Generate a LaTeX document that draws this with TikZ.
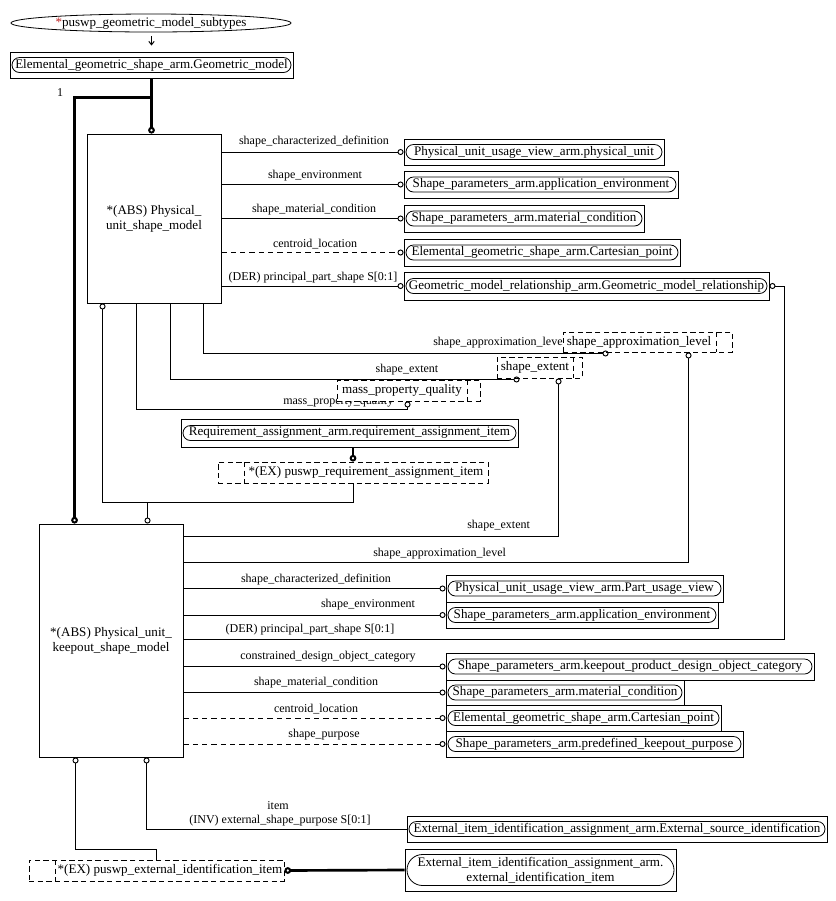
\documentclass[tikz,border=0pt]{standalone}
\usepackage{fontspec}
\setmainfont{Liberation Serif}
\usetikzlibrary{shapes.geometric,shapes.misc,arrows.meta,calc}
\definecolor{astred}{RGB}{190,30,30}
\newcommand\myent[6]{%
  \node[entbox, minimum width={(#4-#2)*0.75pt}, minimum height={(#5-#3)*0.75pt}] (#1) at ({(#2+#4)/2},{(#3+#5)/2}) {};
  \node[stad, minimum width={(#4-#2-4)*0.75pt}] (#1-t) at (#1.center) {#6};
}
\newcommand\mysel[8]{%
  \node[selbox, minimum width={(#4-#2)*0.75pt}, minimum height={(#5-#3)*0.75pt}] (#1) at ({(#2+#4)/2},{(#3+#5)/2}) {};
  \draw[seldash] (#6,#3) -- (#6,#5);
  \node[lbl, boxfont] (#1-t) at (#7,{(#3+#5)/2}) {#8};
}
\begin{document}
\begin{tikzpicture}[x=0.75pt,y=-0.75pt,
  every node/.style={font=\fontsize{9}{10.5}\selectfont, text=black},
  boxfont/.style={font=\fontsize{9.8}{11.4}\selectfont},
  entbox/.style={draw, rectangle, inner sep=0pt, line width=0.7pt, fill=white},
  stad/.style={draw, rounded rectangle, inner sep=0pt, minimum height=11.25pt, line width=0.6pt, boxfont},
  seldash/.style={line width=0.7pt, dash pattern=on 4pt off 2.5pt},
  selbox/.style={draw, rectangle, seldash, inner sep=0pt, fill=white},
  bigbox/.style={draw, rectangle, inner sep=0pt, line width=0.7pt, align=center, boxfont},
  rel/.style={line width=0.75pt},
  der/.style={line width=0.75pt, dash pattern=on 4pt off 3pt},
  circ/.style={-{Circle[open,length=4.5pt,width=4.5pt,line width=0.7pt]}},
  suprel/.style={line width=2pt, -{Circle[open,length=5pt,width=5pt,line width=1.5pt]}},
  lbl/.style={inner sep=0pt}
]
\useasboundingbox (0,0) rectangle (836,901);

% labels (drawn first so boxes can cover them)
\node[lbl] (l1) at (314,142) {shape\_characterized\_definition};
\node[lbl] (l2) at (315,176) {shape\_environment};
\node[lbl] (l3) at (314,210) {shape\_material\_condition};
\node[lbl] (l4) at (315,244) {centroid\_location};
\node[lbl] (l5) at (313,278) {(DER) principal\_part\_shape S[0:1]};
\node[lbl, anchor=west] (l6) at (433,343) {shape\_approximation\_level};
\node[lbl] (l7) at (407,370) {shape\_extent};
\node[lbl, anchor=west] (l8) at (283,402) {mass\_property\_quality};

\node[lbl, anchor=west] (m1) at (467,526) {shape\_extent};
\node[lbl, anchor=west] (m2) at (373,554) {shape\_approximation\_level};
\node[lbl] (m3) at (316,580) {shape\_characterized\_definition};
\node[lbl] (m4) at (368,605) {shape\_environment};
\node[lbl] (m5) at (310,630) {(DER) principal\_part\_shape S[0:1]};
\node[lbl] (m6) at (328,657) {constrained\_design\_object\_category};
\node[lbl] (m7) at (316,683) {shape\_material\_condition};
\node[lbl] (m8) at (316,709) {centroid\_location};
\node[lbl] (m9) at (324,735) {shape\_purpose};
\node[lbl] (m10) at (278,806) {item};
\node[lbl] (m11) at (280,821) {(INV) external\_shape\_purpose S[0:1]};
\node[lbl] (one) at (60,93) {1};

% top
\node[draw, ellipse, inner sep=0pt, minimum width=280*0.75pt, minimum height=18*0.75pt, line width=0.6pt, boxfont] (ell) at (151,23) {\textcolor{astred}{*}puswp\_geometric\_model\_subtypes};
\myent{geo}{10}{52}{293}{78}{Elemental\_geometric\_shape\_arm.Geometric\_model}

% big entity boxes
\node[bigbox, minimum width=134*0.75pt, minimum height=169*0.75pt] (pusm) at (154,218.5) {*(ABS) Physical\_\\unit\_shape\_model};
\node[bigbox, minimum width=144*0.75pt, minimum height=233*0.75pt] (kso) at (111,640.5) {*(ABS) Physical\_unit\_\\keepout\_shape\_model};

% upper targets
\myent{pu}{404}{139}{664}{165}{Physical\_unit\_usage\_view\_arm.physical\_unit}
\myent{ae1}{404}{171}{678}{198}{Shape\_parameters\_arm.application\_environment}
\myent{mc1}{404}{205}{644}{232}{Shape\_parameters\_arm.material\_condition}
\myent{cp1}{404}{239}{680}{266}{Elemental\_geometric\_shape\_arm.Cartesian\_point}
\myent{grel}{404}{272}{769}{300}{Geometric\_model\_relationship\_arm.Geometric\_model\_relationship}

% select / type boxes
\mysel{sal}{563}{332}{732}{352}{716}{639}{shape\_approximation\_level}
\mysel{sext}{497}{357}{582}{378}{573}{535}{shape\_extent}
\mysel{mpq}{337}{380}{480}{401}{467}{402}{mass\_property\_quality}
\myent{req}{181}{419}{518}{447}{Requirement\_assignment\_arm.requirement\_assignment\_item}
\mysel{reqsel}{218}{462}{488}{483}{244}{366}{*(EX) puswp\_requirement\_assignment\_item}

% lower targets
\myent{puv}{446}{575}{723}{602}{Physical\_unit\_usage\_view\_arm.Part\_usage\_view}
\myent{ae2}{446}{602}{718}{628}{Shape\_parameters\_arm.application\_environment}
\myent{kpd}{446}{653}{814}{680}{Shape\_parameters\_arm.keepout\_product\_design\_object\_category}
\myent{mc2}{446}{680}{684}{705}{Shape\_parameters\_arm.material\_condition}
\myent{cp2}{446}{705}{721}{731}{Elemental\_geometric\_shape\_arm.Cartesian\_point}
\myent{pkp}{446}{731}{743}{757}{Shape\_parameters\_arm.predefined\_keepout\_purpose}
\myent{esi}{407}{816}{827}{842}{External\_item\_identification\_assignment\_arm.External\_source\_identification}
\node[entbox, minimum width=271*0.75pt, minimum height=42*0.75pt] (eii) at (540.5,870) {};
\node[stad, minimum width=267*0.75pt, minimum height=31*0.75pt, align=center] (eii-t) at (eii.center) {External\_item\_identification\_assignment\_arm.\\external\_identification\_item};
\mysel{extsel}{29}{860}{284}{881}{55}{170}{*(EX) puswp\_external\_identification\_item}

% connectors: supertype
\draw[rel, shorten <=3pt, shorten >=4.5pt, -{Straight Barb[length=2.5pt,width=4pt]}] (ell.south -| geo.north) -- (geo.north);
\draw[suprel] (geo.south) -- (geo.south |- pusm.north);
\draw[suprel] (geo.south) -- ++(0,19) -| ($(kso.north west)+(36,0)$);
\draw[suprel] (req.south -| reqsel.north) -- (reqsel.north);
\draw[suprel] (eii.west) -- (extsel.east);

% upper attributes
\draw[rel,circ] (pusm.east |- pu.west) -- (pu.west);
\draw[rel,circ] (pusm.east |- ae1.west) -- (ae1.west);
\draw[rel,circ] (pusm.east |- mc1.west) -- (mc1.west);
\draw[der,circ] (pusm.east |- cp1.west) -- (cp1.west);
\draw[rel,circ] (pusm.east |- grel.west) -- (grel.west);
\draw[rel,circ] ($(pusm.south west)+(117,0)$) |- ($(sal.south west)+(46,1)$);
\draw[rel,circ] ($(pusm.south west)+(84,0)$) |- ($(sext.south west)+(23,1)$);
\draw[rel,circ] ($(pusm.south west)+(50,0)$) |- ($(mpq.south west)+(71,8)$) -- ($(mpq.south west)+(71,0)$);

% select membership
\draw[rel,circ] (reqsel.south) -- ++(0,19) -| ($(pusm.south west)+(16,0)$);
\draw[rel,circ] ($(reqsel.south)+(0,19)$) -| ($(kso.north west)+(109,0)$);

% lower attributes
\draw[rel,circ] (kso.east |- 0,536) -| ($(sext.south west)+(62,0)$);
\draw[rel,circ] (kso.east |- 0,562) -| ($(sal.south west)+(126,0)$);
\draw[rel,circ] (kso.east |- puv.west) -- (puv.west);
\draw[rel,circ] (kso.east |- ae2.west) -- (ae2.west);
\draw[rel,circ] (kso.east |- 0,639) -| ($(grel.east)+(15,0)$) -- (grel.east);
\draw[rel,circ] (kso.east |- kpd.west) -- (kpd.west);
\draw[rel,circ] (kso.east |- mc2.west) -- (mc2.west);
\draw[der,circ] (kso.east |- cp2.west) -- (cp2.west);
\draw[der,circ] (kso.east |- pkp.west) -- (pkp.west);

% bottom
\draw[rel,circ] (esi.west) -| ($(kso.south west)+(108,0)$);
\draw[rel,circ] ($(extsel.north west)+(128,0)$) -- ++(0,-10) -| ($(kso.south west)+(37,0)$);
\end{tikzpicture}
\end{document}
